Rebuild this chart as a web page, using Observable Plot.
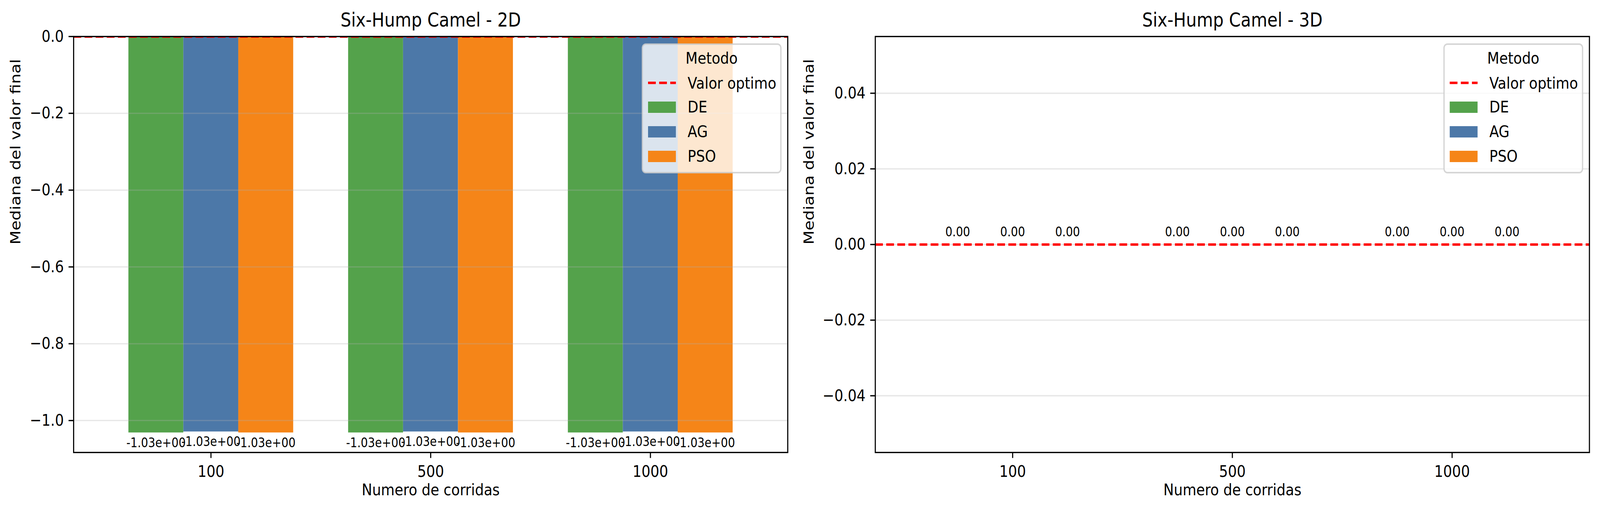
<!DOCTYPE html>
<html>
<head>
<meta charset="utf-8">
<script src="https://cdn.jsdelivr.net/npm/d3@7"></script>
<script src="https://cdn.jsdelivr.net/npm/@observablehq/plot@0.6"></script>
<style>
  html, body { margin: 0; padding: 0; background: white; overflow: hidden; }
  #wrap { position: relative; width: 4770px; height: 1316px; display: flex; transform-origin: 0 0; font-family: "DejaVu Sans", sans-serif; }
  #wrap > svg.overlay { position: absolute; left: 0; top: 0; pointer-events: none; }
</style>
</head>
<body>
<div id="wrap"></div>
<script>
// ---- data ----
const categories = ["100", "500", "1000"];
const methods = ["DE", "AG", "PSO"];
const methodColors = ["#54a24b", "#4c78a8", "#f58518"];

// 2D medians (per category 100, 500, 1000)
const de2D  = [-1.0316, -1.0316, -1.0316];
const ag2D  = [-1.0290, -1.0290, -1.0290];
const pso2D = [-1.0316, -1.0316, -1.0316];
const optimum2D = 0;

// 3D medians
const de3D  = [0, 0, 0];
const ag3D  = [0, 0, 0];
const pso3D = [0, 0, 0];
const optimum3D = 0;

const yTicks2D = [0, -0.2, -0.4, -0.6, -0.8, -1.0];
const yTicks3D = [-0.04, -0.02, 0, 0.02, 0.04];

const title2D = "Six-Hump Camel - 2D";
const title3D = "Six-Hump Camel - 3D";
const xLabel = "Numero de corridas";
const yLabel = "Mediana del valor final";
const legendTitle = "Metodo";
const optimumLabel = "Valor optimo";

// ---- helpers ----
function sciFmt(v) {
  const s = v.toExponential(2);
  return s.replace(/e([+-])(\d)$/, "e$10$2");
}
function fixedFmt(v) { return v.toFixed(2); }

function buildRows(series) {
  return categories.flatMap((c, ci) => methods.map((m, mj) => ({
    cat: c, ci, method: m, mj, value: series[mj][ci]
  })));
}

const W = 2385, H = 1316;
const FS = 41.7;
const LFS = 33.3;

function panel({rows, yDomain, yTicks, yFmt, labelFmt, optimum, title, marginLeft, marginRight, labelBelow, yLabelDx}) {
  const bw = 0.25;
  return Plot.plot({
    width: W, height: H,
    marginLeft, marginRight, marginTop: 93, marginBottom: 158,
    style: {fontFamily: "'DejaVu Sans', sans-serif", background: "white", overflow: "visible"},
    x: {domain: [-0.625, 2.625]},
    y: {domain: yDomain},
    color: {domain: methods, range: methodColors},
    marks: [
      Plot.rectY(rows, {
        x1: d => d.ci + (d.mj - 1) * bw - bw / 2,
        x2: d => d.ci + (d.mj - 1) * bw + bw / 2,
        y1: 0, y2: "value", fill: "method"
      }),
      Plot.gridY(yTicks, {stroke: "#b0b0b0", strokeOpacity: 0.3, strokeWidth: 3.3}),
      Plot.ruleY([optimum], {stroke: "red", strokeWidth: 6.25, strokeDasharray: "23.1 10", clip: true}),
      Plot.text(rows, {
        x: d => d.ci + (d.mj - 1) * bw,
        y: "value",
        text: d => labelFmt(d.value),
        fontSize: LFS,
        lineAnchor: labelBelow ? "top" : "bottom",
        dy: labelBelow ? 13.4 : -21
      }),
      Plot.frame({stroke: "black", strokeWidth: 3.3}),
      Plot.axisY(yTicks, {tickFormat: yFmt, tickSize: 14.6, tickPadding: 14.6, fontSize: FS, strokeWidth: 3.3, label: null}),
      Plot.axisX([0, 1, 2], {tickFormat: i => categories[i], tickSize: 14.6, tickPadding: 18, fontSize: FS, strokeWidth: 3.3, label: null}),
      Plot.text([title], {text: d => d, frameAnchor: "top", dy: -26, lineAnchor: "bottom", fontSize: 50}),
      Plot.text([yLabel], {text: d => d, frameAnchor: "left", dx: yLabelDx, rotate: -90, fontSize: FS}),
      Plot.text([xLabel], {text: d => d, frameAnchor: "bottom", dy: 109, fontSize: FS})
    ]
  });
}

const wrap = document.getElementById("wrap");

const p1 = panel({
  rows: buildRows([de2D, ag2D, pso2D]),
  yDomain: [-1.0832, 0],
  yTicks: yTicks2D,
  yFmt: d3.format(".1f"),
  labelFmt: sciFmt,
  optimum: optimum2D,
  title: title2D,
  marginLeft: 219, marginRight: 37,
  labelBelow: true,
  yLabelDx: -172
});
const p2 = panel({
  rows: buildRows([de3D, ag3D, pso3D]),
  yDomain: [-0.055, 0.055],
  yTicks: yTicks3D,
  yFmt: d3.format(".2f"),
  labelFmt: fixedFmt,
  optimum: optimum3D,
  title: title3D,
  marginLeft: 224, marginRight: 32,
  labelBelow: false,
  yLabelDx: -197
});
wrap.appendChild(p1);
wrap.appendChild(p2);

// ---- legends (overlay) ----
const ov = d3.select(wrap).append("svg")
  .attr("class", "overlay")
  .attr("width", 4770).attr("height", 1316)
  .style("font-family", "'DejaVu Sans', sans-serif");

function legend(x0) {
  const g = ov.append("g");
  const w = 413, h = 329, y0 = 113;
  g.append("rect").attr("x", x0).attr("y", y0).attr("width", w).attr("height", h)
    .attr("rx", 10).attr("fill", "white").attr("fill-opacity", 0.8)
    .attr("stroke", "#cccccc").attr("stroke-opacity", 0.8).attr("stroke-width", 4);
  g.append("text").attr("x", x0 + w / 2).attr("y", 163).attr("text-anchor", "middle")
    .attr("font-size", FS).text(legendTitle);
  const hx = x0 + 17, hw = 83, tx = x0 + 135;
  g.append("line").attr("x1", hx).attr("x2", hx + hw).attr("y1", 212).attr("y2", 212)
    .attr("stroke", "red").attr("stroke-width", 6.25).attr("stroke-dasharray", "23.1 10");
  g.append("text").attr("x", tx).attr("y", 227).attr("font-size", FS).text(optimumLabel);
  methods.forEach((m, i) => {
    const cy = 274.5 + 63 * i;
    g.append("rect").attr("x", hx).attr("y", cy - 14.5).attr("width", hw).attr("height", 29)
      .attr("fill", methodColors[i]);
    g.append("text").attr("x", tx).attr("y", cy + 14).attr("font-size", FS).text(m);
  });
}
legend(1915);
legend(4305);

// fit the 4770px-wide figure into the browser window width
const sx = Math.min(1, window.innerWidth / 4770);
if (sx < 1) wrap.style.transform = `scale(${sx}, 1)`;
</script>
</body>
</html>
